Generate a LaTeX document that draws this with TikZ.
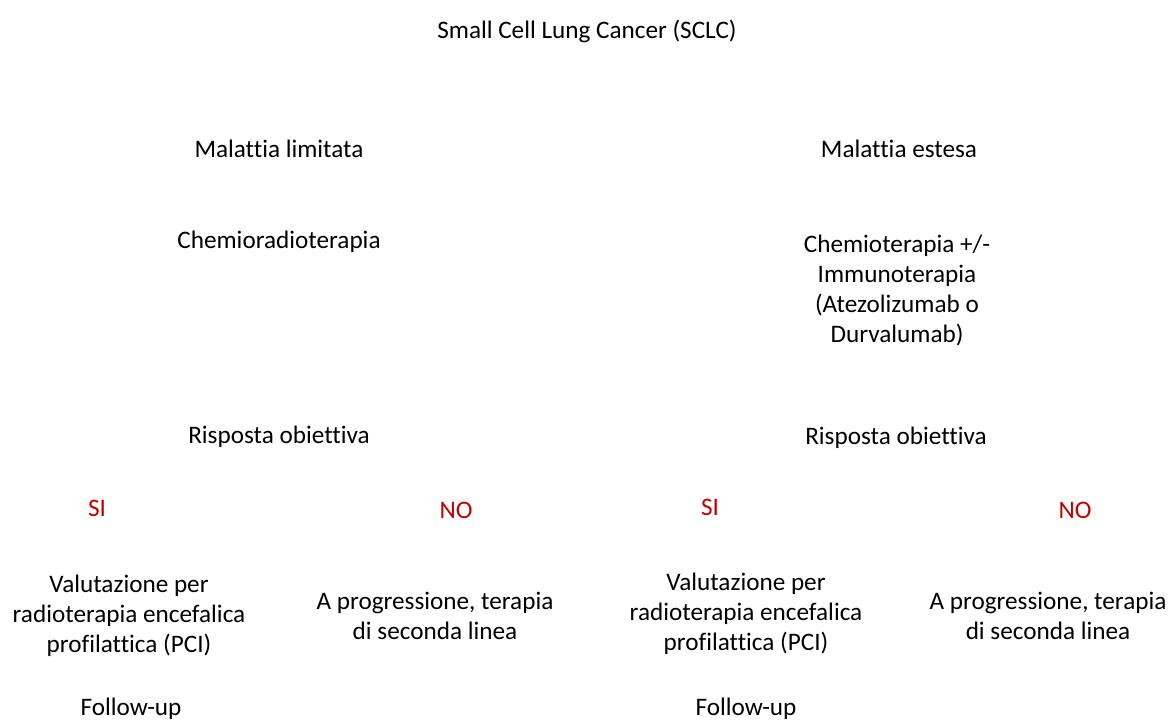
\documentclass[tikz,border=0pt]{standalone}
\usepackage{fontspec}
\setmainfont[Ligatures=NoCommon]{Carlito}
\usetikzlibrary{positioning}
\definecolor{answerred}{HTML}{C00000}

\begin{document}
\begin{tikzpicture}[x=1pt, y=-1pt, node distance=93pt, on grid,
every node/.style={font=\fontsize{25.2}{30}\selectfont, align=center, inner sep=0pt},
answer/.style={text=answerred}]
\useasboundingbox (0,0) rectangle (1173,720);
\node (sclc) at (587,31) {Small Cell Lung Cancer (SCLC)};
\node (limitata) at (279,149) {Malattia limitata};
\node (estesa) at (899,149) {Malattia estesa};
\node (chemiorad) [below = of limitata] {Chemioradioterapia};
\node (chemioimm) at (897,290) {Chemioterapia +/-\\ Immunoterapia\\ (Atezolizumab o\\ Durvalumab)};
\node (risp_l) at (279,437) {Risposta obiettiva};
\node (risp_r) at (896,438) {Risposta obiettiva};
\node (si_l) [answer] at (97,508) {SI};
\node (no_l) [answer] at (456,510) {NO};
\node (si_r) [answer] at (710,507) {SI};
\node (no_r) [answer] at (1075,510) {NO};
\node (pci_l) at (129,616) {Valutazione per\\ radioterapia encefalica\\ profilattica (PCI)};
\node (prog_l) at (435,616) {A progressione, terapia\\ di seconda linea};
\node (pci_r) at (746,614) {Valutazione per\\ radioterapia encefalica\\ profilattica (PCI)};
\node (prog_r) at (1048,616) {A progressione, terapia\\ di seconda linea};
\node (fu_l) at (131,709) {Follow-up};
\node (fu_r) at (746,709) {Follow-up};
\end{tikzpicture}
\end{document}
